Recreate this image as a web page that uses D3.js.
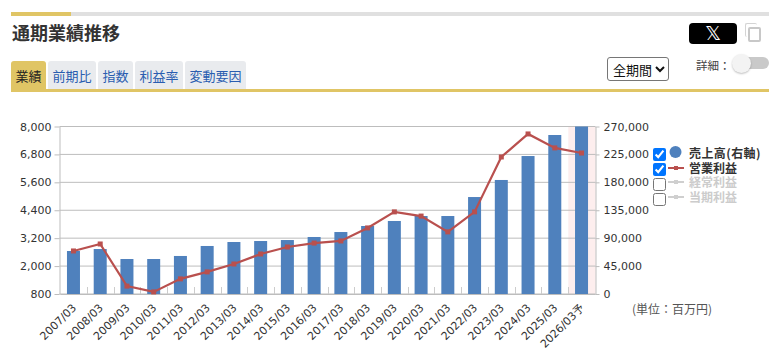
<!DOCTYPE html>
<html lang="ja"><head><meta charset="utf-8">
<script src="https://cdn.jsdelivr.net/npm/d3@7/dist/d3.min.js"></script>
<style>
html,body{margin:0;padding:0;background:#fff;overflow:hidden;width:779px;height:352px}
body{font-family:"Noto Sans CJK JP","Noto Sans",sans-serif;position:relative}
.abs{position:absolute}
.tab{position:absolute;top:61px;height:28px;line-height:29px;text-align:center;font-size:13px;background:#e9ebee;color:#2a5db0;border-radius:3px 3px 0 0}
.tab.on{background:#e0c565;color:#222}
input[type=checkbox]{position:absolute;margin:0;width:13px;height:13px;left:653px}
select{position:absolute;left:607px;top:57px;width:62px;height:24px;font:13px "Noto Sans CJK JP";padding:0 0 0 1px;background:#fff;color:#111;border:1px solid #767676;border-radius:3px}
svg{position:absolute;left:0;top:0}
svg text{font-family:"DejaVu Sans",sans-serif}
.leg{position:absolute;left:689px;font:bold 12px/14px "Noto Sans CJK JP";white-space:nowrap}
</style></head><body>
<div class="abs" style="left:11px;top:12px;width:758px;height:4px;background:#e0e0e0"></div>
<div class="abs" style="left:11px;top:12px;width:60px;height:4px;background:#e0c565"></div>
<div class="abs" style="left:12px;top:19px;font-size:18px;line-height:26px;font-weight:700;color:#333">通期業績推移</div>
<div class="tab on" style="left:11px;width:35px">業績</div>
<div class="tab" style="left:48px;width:48px">前期比</div>
<div class="tab" style="left:98px;width:35px">指数</div>
<div class="tab" style="left:135px;width:48px">利益率</div>
<div class="tab" style="left:185px;width:61px">変動要因</div>
<div class="abs" style="left:11px;top:89px;width:758px;height:3px;background:#e0c565"></div>
<div class="abs" style="left:689px;top:23px;width:48px;height:21px;background:#000;border-radius:4px;color:#fff;text-align:center;font:20px/21px 'DejaVu Sans'">𝕏</div>
<div class="abs" style="left:745px;top:23px;width:11px;height:13px;border:1px solid #d4d4d4;border-width:1px 0 0 1px;border-radius:2px"></div>
<div class="abs" style="left:748px;top:27px;width:9px;height:11px;border:2px solid #c8c8c8;border-radius:2px;background:#fff"></div>
<select><option>全期間</option></select>
<div class="abs" style="left:696px;top:56px;font-size:11.5px;line-height:18px;color:#444">詳細：</div>
<div class="abs" style="left:735px;top:57px;width:34px;height:12px;background:#c9c9c9;border-radius:6px"></div>
<div class="abs" style="left:732px;top:54px;width:19px;height:19px;background:#f3f3f3;border-radius:50%;box-shadow:0 1px 2px rgba(0,0,0,.25)"></div>
<input type="checkbox" checked style="top:148px"><input type="checkbox" checked style="top:163px">
<input type="checkbox" style="top:178px"><input type="checkbox" style="top:193px">
<div class="leg" style="top:146px;color:#333;letter-spacing:.4px">売上高(右軸)</div>
<div class="leg" style="top:161px;color:#333">営業利益</div>
<div class="leg" style="top:175px;color:#ccc">経常利益</div>
<div class="leg" style="top:190px;color:#ccc">当期利益</div>
<div class="abs" style="left:632px;top:300px;font-size:12px;line-height:18px;color:#555">(単位：百万円)</div>
<svg id="c" width="779" height="352"></svg>
<script>
const categories=["2007/03","2008/03","2009/03","2010/03","2011/03","2012/03","2013/03","2014/03","2015/03","2016/03","2017/03","2018/03","2019/03","2020/03","2021/03","2022/03","2023/03","2024/03","2025/03","2026/03予"];
const sales=[69300,72500,56400,56400,61300,77400,83800,85400,87000,91900,99900,109600,117700,125700,125700,156300,183800,222400,256300,270000];
const operatingProfit=[2650,2950,1140,890,1450,1750,2090,2520,2820,2990,3080,3640,4330,4150,3470,4330,6690,7680,7080,6860];
const leftTicks=[800,2000,3200,4400,5600,6800,8000];
const rightTicks=[0,45000,90000,135000,180000,225000,270000];

const L=59.5,R=595.5,T=126.5,B=294;
const svg=d3.select("#c");
const x=d3.scaleBand().domain(categories).range([60.1,594.9]);
const yL=d3.scaleLinear().domain([800,8000]).range([B,T]);
const yR=d3.scaleLinear().domain([0,270000]).range([B,T]);
const axisCol="#bdbdbd",txt="#333";

svg.append("rect").attr("x",568.3).attr("y",T).attr("width",R-568.3).attr("height",B-T).attr("fill","#fdeeee");

svg.append("g").selectAll("line").data(leftTicks).join("line")
 .attr("x1",L).attr("x2",R).attr("y1",d=>yL(d)).attr("y2",d=>yL(d)).attr("stroke",axisCol);

const barW=13;
svg.append("g").selectAll("rect").data(sales).join("rect")
 .attr("x",(d,i)=>x(categories[i])+x.bandwidth()/2-barW/2).attr("width",barW)
 .attr("y",d=>yR(d)).attr("height",d=>B-yR(d)).attr("fill","#4f81bd");

function styleAxis(g){g.select(".domain").attr("stroke",axisCol);g.selectAll(".tick line").attr("stroke",axisCol);
 g.selectAll("text").attr("fill",txt).style("font-size","11px");}
svg.append("g").attr("transform",`translate(${L},0)`)
 .call(d3.axisLeft(yL).tickValues(leftTicks).tickFormat(d3.format(",")).tickSize(5).tickSizeOuter(0).tickPadding(3)).call(styleAxis);
svg.append("g").attr("transform",`translate(${R},0)`)
 .call(d3.axisRight(yR).tickValues(rightTicks).tickFormat(d3.format(",")).tickSize(4).tickSizeOuter(0).tickPadding(4)).call(styleAxis);

const xg=svg.append("g").attr("transform",`translate(0,${B})`)
 .call(d3.axisBottom(x).tickSize(0).tickSizeOuter(0));
xg.select(".domain").attr("stroke",axisCol);
xg.selectAll("text").attr("fill",txt).style("font-size","11px").attr("text-anchor","end")
 .attr("transform","translate(-2,9) rotate(-45)").attr("dy","0.7em").attr("x",0).attr("y",0)
 .style("font-family",'"DejaVu Sans","Noto Sans CJK JP",sans-serif');
svg.append("g").selectAll("line").data(categories.slice(1)).join("line")
 .attr("x1",d=>Math.round(x(d))+.5).attr("x2",d=>Math.round(x(d))+.5).attr("y1",B-7).attr("y2",B).attr("stroke","#ccc");

const px=(d,i)=>x(categories[i])+x.bandwidth()/2;
const lineGen=d3.line().x(px).y(d=>yL(d));
const red="#b9504e";
svg.append("path").datum(operatingProfit).attr("d",lineGen).attr("fill","none").attr("stroke",red).attr("stroke-width",2.2);
svg.append("g").selectAll("rect").data(operatingProfit).join("rect")
 .attr("x",(d,i)=>px(d,i)-2.5).attr("y",d=>yL(d)-2.5).attr("width",5).attr("height",5).attr("fill",red);

const lg=svg.append("g");
lg.append("circle").attr("cx",675.5).attr("cy",152).attr("r",6).attr("fill","#4f81bd");
[[168,red],[182,"#cfcfcf"],[197,"#cfcfcf"]].forEach(([y,c])=>{
 lg.append("line").attr("x1",668).attr("x2",684).attr("y1",y).attr("y2",y).attr("stroke",c).attr("stroke-width",2);
 lg.append("rect").attr("x",674).attr("y",y-2).attr("width",4).attr("height",4).attr("fill",c);
});
</script></body></html>
